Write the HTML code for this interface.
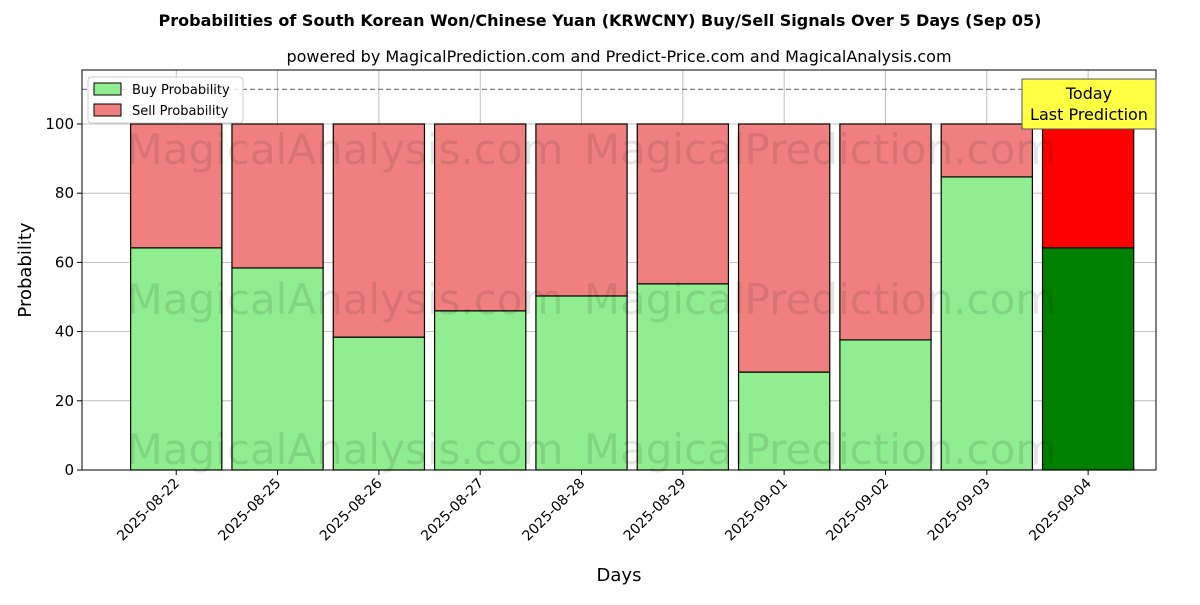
<!DOCTYPE html>
<html><head><meta charset="utf-8"><style>
body{margin:0;background:#fff;font-family:"Liberation Sans","DejaVu Sans",sans-serif}
</style></head><body>
<svg id="c" width="1200" height="600" xmlns="http://www.w3.org/2000/svg" font-family="DejaVu Sans, Liberation Sans, sans-serif">
<text x="600" y="26" text-anchor="middle" font-size="16" font-weight="bold">Probabilities of South Korean Won/Chinese Yuan (KRWCNY) Buy/Sell Signals Over 5 Days (Sep 05)</text>
<text x="619" y="62" text-anchor="middle" font-size="16">powered by MagicalPrediction.com and Predict-Price.com and MagicalAnalysis.com</text>
<g id="plot"></g>
</svg>
<script>
const categories=["2025-08-22","2025-08-25","2025-08-26","2025-08-27","2025-08-28","2025-08-29","2025-09-01","2025-09-02","2025-09-03","2025-09-04"];
const buyValues=[64.2,58.4,38.4,46.0,50.3,53.8,28.3,37.6,84.7,64.2];
const yTicks=[0,20,40,60,80,100];
const NS="http://www.w3.org/2000/svg";
const L=82,R=1156,T=70,B=470,YMAX=115.6;
const y=v=>B-(B-T)*v/YMAX;
const step=(R-L)/(categories.length+0.6);
const x=i=>L+step*(0.93+i);
const bw=step*0.9;
const g=document.getElementById('plot');
function el(t,a,txt){const e=document.createElementNS(NS,t);for(const k in a)e.setAttribute(k,a[k]);if(txt!=null)e.textContent=txt;g.appendChild(e);return e;}
yTicks.forEach(v=>{const l=el('line',{x1:L,x2:R,y1:y(v),y2:y(v),stroke:'#b0b0b0','stroke-width':0.8});

});
categories.forEach((c,i)=>{const l=el('line',{x1:x(i),x2:x(i),y1:T,y2:B,stroke:'#b0b0b0','stroke-width':0.8});

});
categories.forEach((c,i)=>{
 const last=i===categories.length-1;const b=buyValues[i];
 const r1=el('rect',{x:x(i)-bw/2,y:y(b),width:bw,height:y(0)-y(b),fill:last?'#008000':'#90ee90',stroke:'#000','stroke-width':1.2});
 
 
 const r2=el('rect',{x:x(i)-bw/2,y:y(100),width:bw,height:y(b)-y(100),fill:last?'#ff0000':'#f08080',stroke:'#000','stroke-width':1.2});
 
 
 const tk=el('line',{x1:x(i),x2:x(i),y1:B,y2:B+5,stroke:'#000'});
 
 
 const t=el('text',{x:x(i)+4,y:B+14,'text-anchor':'end','font-size':14,transform:`rotate(-45 ${x(i)+4} ${B+14})`},c);
 
 
});
[[345,150,'MagicalAnalysis.com'],[820,150,'MagicalPrediction.com'],[345,300,'MagicalAnalysis.com'],[820,300,'MagicalPrediction.com'],[345,450,'MagicalAnalysis.com'],[820,450,'MagicalPrediction.com']].forEach(w=>{const t=el('text',{x:w[0],y:w[1]+14,'text-anchor':'middle','font-size':42,fill:'#000','fill-opacity':0.1},w[2]);

});
const dl=el('line',{x1:L,x2:R,y1:y(110),y2:y(110),stroke:'#808080','stroke-width':1.2,'stroke-dasharray':'5,3'});


yTicks.forEach(v=>{const tk=el('line',{x1:L-5,x2:L,y1:y(v),y2:y(v),stroke:'#000'});


const t=el('text',{x:L-8,y:y(v)+5,'text-anchor':'end','font-size':15},v);

});
const fr=el('rect',{x:L,y:T,width:R-L,height:B-T,fill:'none',stroke:'#000','stroke-width':1});


const yl=el('text',{x:31,y:270,'text-anchor':'middle','font-size':18,transform:'rotate(-90 31 270)'},'Probability');


const xl=el('text',{x:619,y:581,'text-anchor':'middle','font-size':18},'Days');


const ab=el('rect',{x:1022,y:79,width:134,height:50,fill:'#ffff44',stroke:'#555','stroke-width':1});


const a1=el('text',{x:1089,y:99,'text-anchor':'middle','font-size':16},'Today');


const a2=el('text',{x:1089,y:120,'text-anchor':'middle','font-size':16},'Last Prediction');


const lg=el('rect',{x:88,y:77,width:155,height:46,fill:'#fff','fill-opacity':0.8,stroke:'#ccc',rx:3});


[['Buy Probability','#90ee90',83],['Sell Probability','#f08080',104]].forEach(e=>{
 const s=el('rect',{x:94,y:e[2],width:27,height:12,fill:e[1],stroke:'#000'});
 
 
 const t=el('text',{x:132,y:e[2]+11,'font-size':13},e[0]);
 
 
});
</script>
</body></html>
